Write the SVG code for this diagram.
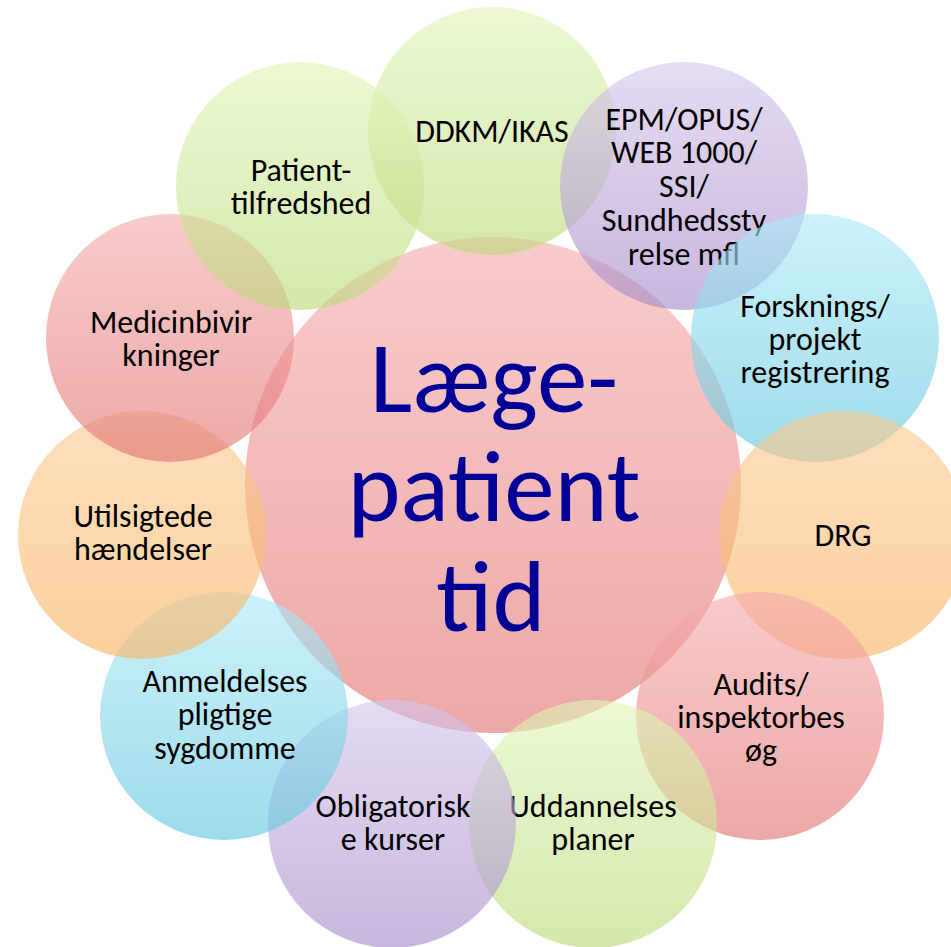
<svg xmlns="http://www.w3.org/2000/svg" width="951" height="947" viewBox="0 0 951 947">
<style>
.c{opacity:0.62}
.t{font-family:Carlito,Lato,"Liberation Sans",sans-serif;font-size:32px;fill:#000;text-anchor:middle}
.big{font-family:Carlito,Lato,"Liberation Sans",sans-serif;font-size:101px;fill:#000096;text-anchor:middle}
</style>
<defs>
<linearGradient id="gGreen" x1="0" y1="0" x2="0" y2="1"><stop offset="0" stop-color="#e0f5b8"/><stop offset="1" stop-color="#bcd97a"/></linearGradient>
<linearGradient id="gPurple" x1="0" y1="0" x2="0" y2="1"><stop offset="0" stop-color="#d6c6ec"/><stop offset="1" stop-color="#a48ac8"/></linearGradient>
<linearGradient id="gCyan" x1="0" y1="0" x2="0" y2="1"><stop offset="0" stop-color="#adeaf8"/><stop offset="1" stop-color="#61c6de"/></linearGradient>
<linearGradient id="gOrange" x1="0" y1="0" x2="0" y2="1"><stop offset="0" stop-color="#fccb94"/><stop offset="1" stop-color="#fab462"/></linearGradient>
<linearGradient id="gRed" x1="0" y1="0" x2="0" y2="1"><stop offset="0" stop-color="#f5acac"/><stop offset="1" stop-color="#e07270"/></linearGradient>
</defs>
<g id="connectors"></g>
<g id="center"><circle class="c" cx="493" cy="485" r="248" fill="url(#gRed)"/>
<text class="big" x="494" y="412">Læge-</text>
<text class="big" x="494" y="521">patient</text>
<text class="big" x="491" y="631">tid</text></g>
<g id="ddkm"><circle class="c" cx="492" cy="131" r="124" fill="url(#gGreen)"/>
<text class="t" x="492" y="142">DDKM/IKAS</text></g>
<g id="epm"><circle class="c" cx="684" cy="186" r="124" fill="url(#gPurple)"/>
<text class="t" x="684" y="130">EPM/OPUS/</text>
<text class="t" x="684" y="163">WEB 1000/</text>
<text class="t" x="684" y="197">SSI/</text>
<text class="t" x="684" y="231">Sundhedssty</text>
<text class="t" x="684" y="265">relse mfl</text></g>
<g id="forsk"><circle class="c" cx="815" cy="338" r="124" fill="url(#gCyan)"/>
<text class="t" x="815" y="317">Forsknings/</text>
<text class="t" x="815" y="350">projekt</text>
<text class="t" x="815" y="383">registrering</text></g>
<g id="drg"><circle class="c" cx="843" cy="535" r="124" fill="url(#gOrange)"/>
<text class="t" x="843" y="546">DRG</text></g>
<g id="audits"><circle class="c" cx="760" cy="716" r="124" fill="url(#gRed)"/>
<text class="t" x="761" y="695">Audits/</text>
<text class="t" x="761" y="728">inspektorbes</text>
<text class="t" x="761" y="761">øg</text></g>
<g id="udd"><circle class="c" cx="593" cy="824" r="124" fill="url(#gGreen)"/>
<text class="t" x="593" y="817">Uddannelses</text>
<text class="t" x="593" y="850">planer</text></g>
<g id="oblig"><circle class="c" cx="392" cy="824" r="124" fill="url(#gPurple)"/>
<text class="t" x="393" y="817">Obligatorisk</text>
<text class="t" x="393" y="850">e kurser</text></g>
<g id="anmeld"><circle class="c" cx="224" cy="716" r="124" fill="url(#gCyan)"/>
<text class="t" x="225" y="692">Anmeldelses</text>
<text class="t" x="225" y="725">pligtige</text>
<text class="t" x="225" y="759">sygdomme</text></g>
<g id="utils"><circle class="c" cx="142" cy="535" r="124" fill="url(#gOrange)"/>
<text class="t" x="143" y="527">Utilsigtede</text>
<text class="t" x="143" y="560">hændelser</text></g>
<g id="medic"><circle class="c" cx="170" cy="338" r="124" fill="url(#gRed)"/>
<text class="t" x="171" y="333">Medicinbivir</text>
<text class="t" x="171" y="366">kninger</text></g>
<g id="patient"><circle class="c" cx="300" cy="186" r="124" fill="url(#gGreen)"/>
<text class="t" x="301" y="181">Patient-</text>
<text class="t" x="301" y="214">tilfredshed</text></g>
</svg>
